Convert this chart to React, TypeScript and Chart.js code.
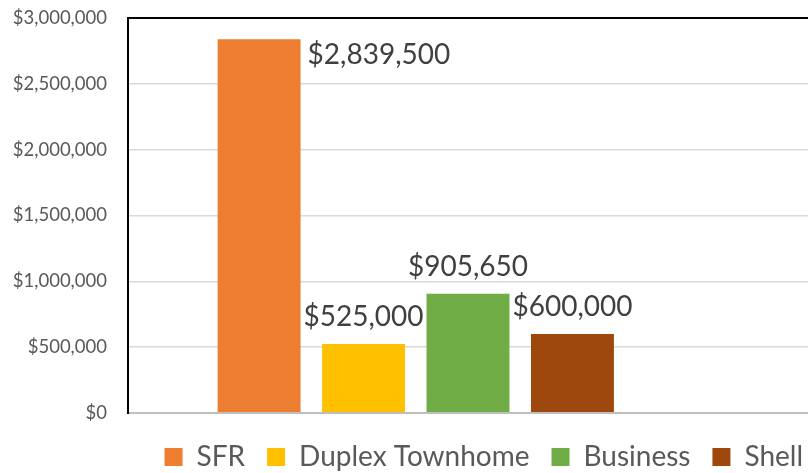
import React, { useEffect, useRef } from "react";
import { Chart, registerables } from "chart.js";

Chart.register(...registerables);

const categories = ["Cost"];
const seriesLabels = ["SFR", "Duplex Townhome", "Business", "Shell"];
const seriesValues = [2839500, 525000, 905650, 600000];
const seriesColors = ["#ED7D31", "#FFC000", "#70AD47", "#9E480E"];
const yMin = 0;
const yMax = 3000000;
const yStep = 500000;

const FONT = "Lato, 'Noto Sans', sans-serif";

const money = (v: number) => "$" + Math.round(v).toLocaleString("en-US");

const dataLabelPlugin = {
  id: "dataLabels",
  afterDatasetsDraw(chart: any) {
    const ctx = chart.ctx;
    const area = chart.chartArea;
    ctx.save();
    ctx.font = `28px ${FONT}`;
    ctx.fillStyle = "#404040";
    seriesValues.forEach((v, i) => {
      const meta = chart.getDatasetMeta(i);
      const bar = meta.data[0];
      if (!bar) return;
      const text = money(v);
      const above = bar.y - 18;
      if (above - 24 < area.top) {
        ctx.textAlign = "left";
        ctx.textBaseline = "alphabetic";
        ctx.fillText(text, bar.x + bar.width / 2 + 7, bar.y + 25);
      } else {
        ctx.textAlign = "center";
        ctx.textBaseline = "alphabetic";
        ctx.fillText(text, bar.x, above);
      }
    });
    ctx.restore();
  },
};

const legendShiftPlugin = {
  id: "legendShift",
  afterLayout(chart: any) {
    const lg = chart.legend;
    if (!lg) return;
    lg.left += 17;
    lg.right += 17;
    lg.top += 8;
    lg.bottom += 8;
  },
};

export default function App() {
  const ref = useRef<HTMLCanvasElement | null>(null);

  useEffect(() => {
    document.body.style.margin = "0";
    let chart: Chart | null = null;
    let cancelled = false;

    const build = () => {
      if (cancelled || !ref.current) return;
      const datasets: any[] = seriesLabels.map((label, i) => ({
        label,
        data: [seriesValues[i]],
        backgroundColor: seriesColors[i],
        borderWidth: 0,
      }));
      datasets.push({ label: "", data: [null], backgroundColor: "rgba(0,0,0,0)", borderWidth: 0 });

      chart = new Chart(ref.current, {
        type: "bar",
        data: { labels: categories, datasets },
        options: {
          animation: false,
          responsive: false,
          devicePixelRatio: 1,
          layout: { padding: { top: 18, right: 0, bottom: 0, left: 0 } },
          datasets: {
            bar: { categoryPercentage: 0.768, barPercentage: 0.794 },
          },
          scales: {
            x: {
              display: false,
            },
            y: {
              min: yMin,
              max: yMax,
              ticks: {
                stepSize: yStep,
                color: "#595959",
                font: { family: FONT, size: 18.5 },
                padding: 21,
                callback: (v: any) => money(Number(v)),
              },
              grid: {
                drawTicks: false,
                color: (c: any) =>
                  c.tick && c.tick.value === yMax ? "#000000" : c.tick && c.tick.value === yMin ? "#BFBFBF" : "#D9D9D9",
                lineWidth: (c: any) => (c.tick && (c.tick.value === yMax || c.tick.value === yMin) ? 2 : 1.5),
              },
              border: { display: true, color: "#000000", width: 2 },
              afterFit: (s: any) => {
                s.width = 128;
                s.paddingTop = 0;
                s.paddingBottom = 0;
              },
            },
          },
          plugins: {
            legend: {
              position: "bottom",
              align: "end",
              labels: {
                color: "#595959",
                font: { family: FONT, size: 28 },
                boxWidth: 18,
                boxHeight: 18,
                padding: 22,
                filter: (item: any) => item.text !== "",
              },
            },
            tooltip: { enabled: false },
          },
        },
        plugins: [dataLabelPlugin, legendShiftPlugin],
      });
    };

    const fontsReady = (document as any).fonts
      ? Promise.all([
          (document as any).fonts.load(`28px Lato`),
          (document as any).fonts.load(`18px Lato`),
        ]).catch(() => null)
      : Promise.resolve(null);
    fontsReady.then(build);

    return () => {
      cancelled = true;
      if (chart) chart.destroy();
    };
  }, []);

  return (
    <div style={{ width: 808, height: 473, position: "relative", background: "#fff" }}>
      <canvas ref={ref} width={808} height={473} style={{ display: "block" }} />
    </div>
  );
}
